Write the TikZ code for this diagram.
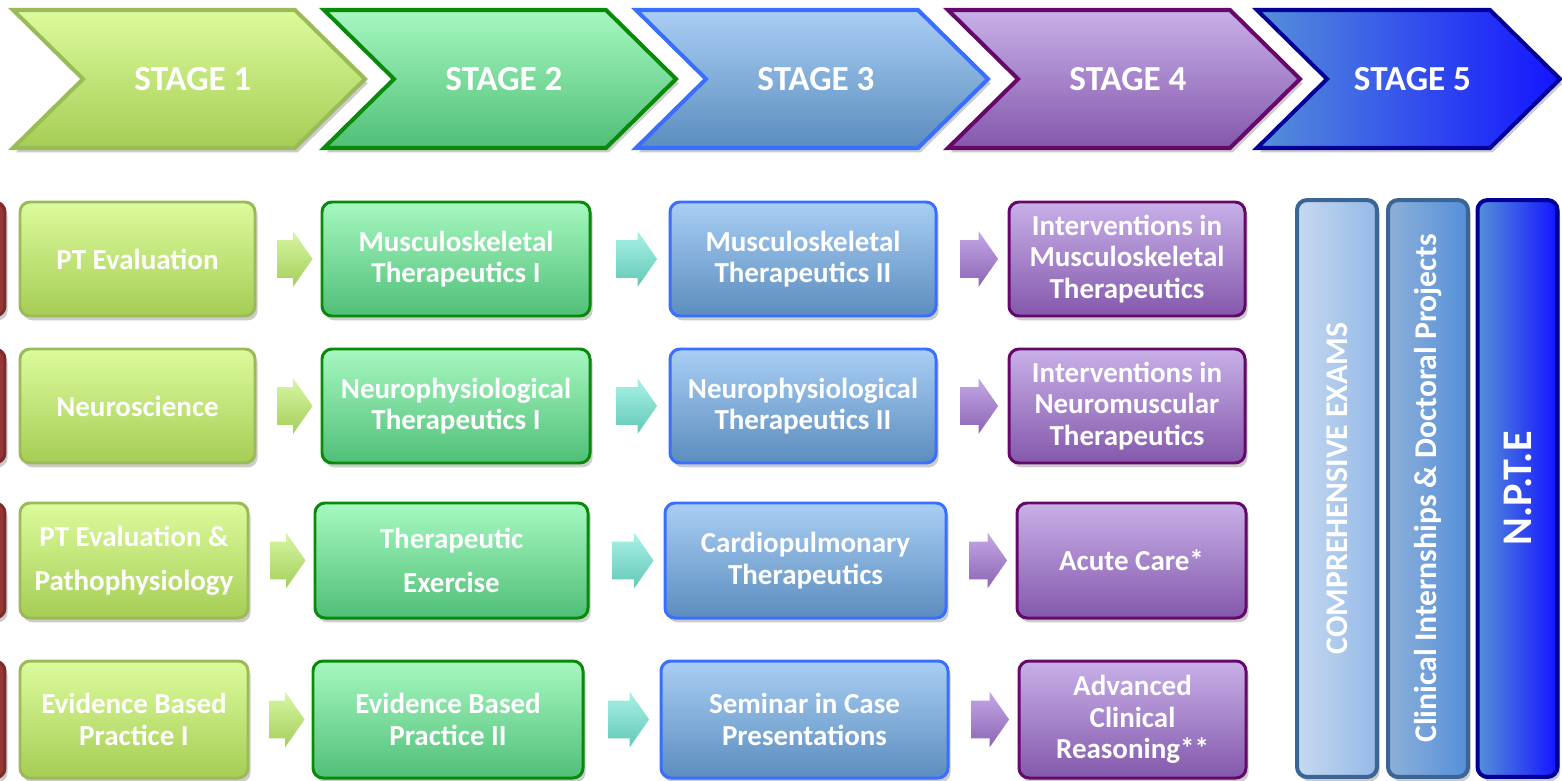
\documentclass[tikz,border=0pt]{standalone}
\usepackage{fontspec}
\setmainfont{Carlito}
\usepackage{graphicx}
\usetikzlibrary{shapes.arrows,shadows,calc}
\definecolor{sAtop}{HTML}{DCFB9C}
\definecolor{sAbot}{HTML}{A6CD55}
\definecolor{sAline}{HTML}{9BBB59}
\definecolor{sBtop}{HTML}{A6F8C0}
\definecolor{sBbot}{HTML}{50BF78}
\definecolor{sBline}{HTML}{0A8A0A}
\definecolor{sCtop}{HTML}{A9CEF4}
\definecolor{sCbot}{HTML}{5B8DBE}
\definecolor{sCline}{HTML}{3A6EFF}
\definecolor{sDtop}{HTML}{C8B0E8}
\definecolor{sDbot}{HTML}{8458AC}
\definecolor{sDline}{HTML}{66086A}
\definecolor{sEleft}{HTML}{5590D8}
\definecolor{sEright}{HTML}{1414FF}
\definecolor{sEline}{HTML}{000099}
\definecolor{tallAleft}{HTML}{C6D9F1}
\definecolor{tallAright}{HTML}{95B9E6}
\definecolor{tallBleft}{HTML}{8DB0D9}
\definecolor{tallBright}{HTML}{5590DA}
\definecolor{tallline}{HTML}{3A6595}
\definecolor{prevfill}{HTML}{953735}
\definecolor{prevline}{HTML}{7F2B2A}
\definecolor{arAtop}{HTML}{D8F6A2}
\definecolor{arAbot}{HTML}{A4CF5C}
\definecolor{arBtop}{HTML}{A8F2E6}
\definecolor{arBbot}{HTML}{62C8B6}
\definecolor{arCtop}{HTML}{C4A8E6}
\definecolor{arCbot}{HTML}{8C64B4}
\begin{document}
\begin{tikzpicture}[x=0.02cm,y=-0.02cm,
    every node/.style={text=white,align=center,font=\bfseries},
    shad/.style={drop shadow={shadow xshift=1.5pt,shadow yshift=-2.5pt,opacity=.2,fill=black}},
    chev/.style={shad,line width=2.3pt,line join=miter},
    box/.style={shad,rectangle,rounded corners=0.2cm,line width=1.7pt,inner sep=1pt,font=\fontsize{16.5}{18}\selectfont\bfseries},
    tall/.style={shad,rectangle,rounded corners=0.2cm,line width=2.3pt,inner sep=0pt,minimum width=1.6cm,minimum height=11.54cm,font=\fontsize{18}{20}\selectfont\bfseries},
    barr/.style={single arrow,single arrow head extend=0.18cm,single arrow tip angle=110,inner xsep=0pt,inner ysep=0.37cm,minimum width=0pt},
    prevbox/.style={shad,rectangle,rounded corners=0.2cm,fill=prevfill,draw=prevline,line width=1.7pt,minimum width=2.2cm},
    c1/.style={draw=sAline,top color=sAtop,bottom color=sAbot},
    c2/.style={draw=sBline,top color=sBtop,bottom color=sBbot},
    c3/.style={draw=sCline,top color=sCtop,bottom color=sCbot},
    c4/.style={draw=sDline,top color=sDtop,bottom color=sDbot},
    c5/.style={draw=sEline,left color=sEleft,right color=sEright}]
    \useasboundingbox (0,0) rectangle (1562,781);
    \clip (0,0) rectangle (1562,781);
    % stage chevrons
    \foreach \s/\l/\r in {1/13/365,2/324/676,3/636/988,4/948/1300,5/1257/1560}{
        \draw[chev,c\s] (\l,10)--({\r-70},10)--(\r,79)--({\r-70},148)--(\l,148)--({\l+70},79)--cycle;
        \path node[font=\fontsize{20}{24}\selectfont\bfseries] (stage\s) at ({(\l+\r)/2+4},79) {STAGE \s};
    }
    % course boxes, row by row in each column
    \foreach \n/\cy/\h in {1/259/114,2/406/114,3/560.5/115,4/719.5/117}
        \path node[prevbox,minimum height=\h*0.02cm] (prev\n) at (-50,\cy) {};
    \foreach \n/\cx/\cy/\w/\h/\txt in {1/137.5/259/235/114/PT Evaluation,2/137.5/406/235/114/Neuroscience,3/134/560.5/228/115/{PT Evaluation \&\\[7pt]Pathophysiology},4/134/719.5/228/117/{Evidence Based\\Practice I}}
        \path node[box,c1,minimum width=\w*0.02cm,minimum height=\h*0.02cm] (one\n) at (\cx,\cy) {\txt};
    \foreach \n/\cx/\cy/\w/\h/\txt in {1/456/259/268/114/{Musculoskeletal\\Therapeutics I},2/456/406/268/114/{Neurophysiological\\Therapeutics I},3/451.5/560.5/273/115/{Therapeutic\\[7pt]Exercise},4/448/719.5/270/117/{Evidence Based\\Practice II}}
        \path node[box,c2,minimum width=\w*0.02cm,minimum height=\h*0.02cm] (two\n) at (\cx,\cy) {\txt};
    \foreach \n/\cx/\cy/\w/\h/\txt in {1/803/259/266/114/{Musculoskeletal\\Therapeutics II},2/803/406/266/114/{Neurophysiological\\Therapeutics II},3/805.5/560.5/281/115/{Cardiopulmonary\\Therapeutics},4/804.5/719.5/287/117/{Seminar in Case\\Presentations}}
        \path node[box,c3,minimum width=\w*0.02cm,minimum height=\h*0.02cm] (three\n) at (\cx,\cy) {\txt};
    \foreach \n/\cx/\cy/\w/\h/\txt in {1/1127/259/236/114/{Interventions in\\Musculoskeletal\\Therapeutics},2/1127/406/236/114/{Interventions in\\Neuromuscular\\Therapeutics},3/1131.5/560.5/229/115/Acute Care*,4/1132.5/719.5/227/117/{Advanced\\Clinical\\Reasoning**}}
        \path node[box,c4,minimum width=\w*0.02cm,minimum height=\h*0.02cm] (four\n) at (\cx,\cy) {\txt};
    % block arrows between the columns
    \foreach \n in {1,...,4}{
        \path node[barr,minimum height=0.7cm,top color=arAtop,bottom color=arAbot] (pa\n) at ($(one\n.east)!.5!(two\n.west)$) {};
        \path node[barr,minimum height=0.82cm,top color=arBtop,bottom color=arBbot] (pb\n) at ($(two\n.east)!.5!(three\n.west)$) {};
        \path node[barr,minimum height=0.76cm,top color=arCtop,bottom color=arCbot] (pc\n) at ($(three\n.east)!.5!(four\n.west)$) {};
    }
    % stage 5 columns
    \path node[tall,draw=tallline,left color=tallAleft,right color=tallAright] (exams) at (1337,488.5) {\rotatebox{90}{COMPREHENSIVE EXAMS}};
    \path node[tall,draw=tallline,left color=tallBleft,right color=tallBright] (clinical) at (1428,488.5) {\rotatebox{90}{Clinical Internships \& Doctoral Projects}};
    \path node[tall,c5] (npte) at (1517.5,488.5) {\rotatebox{90}{\fontsize{24}{28}\selectfont N.P.T.E}};
\end{tikzpicture}
\end{document}
